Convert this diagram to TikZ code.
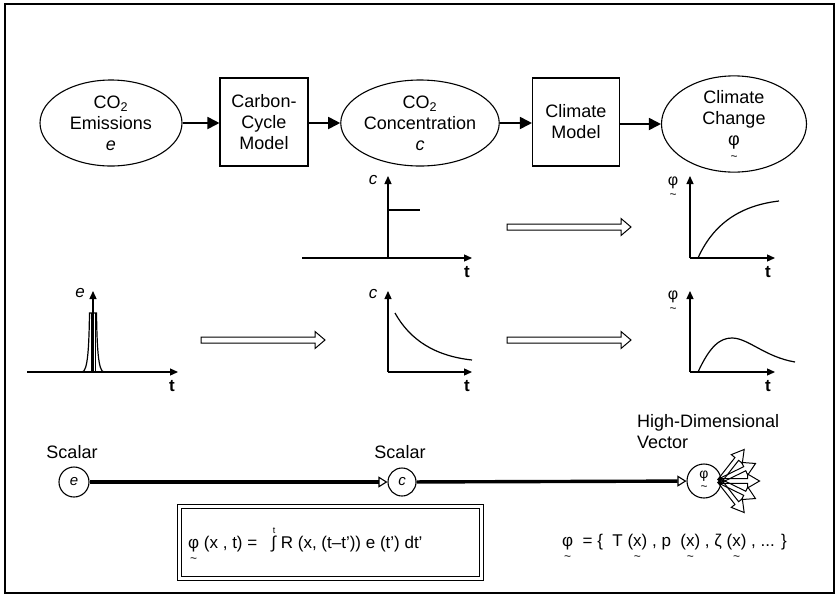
\documentclass[tikz,border=0pt]{standalone}
\usepackage{fontspec}
\setmainfont{Liberation Sans}
\usetikzlibrary{arrows.meta,shapes.geometric}
\newcommand\tld[2][-6pt]{\begin{tabular}[t]{@{}c@{}}#2\\[#1]{\fontsize{12}{12}\selectfont\textasciitilde}\end{tabular}}
\newcommand\harrow[3]{\draw[harr] (#1,#3-3) -- (#2-10,#3-3) -- (#2-10,#3-8.5) -- (#2,#3) -- (#2-10,#3+8.5) -- (#2-10,#3+3) -- (#1,#3+3) -- cycle;}
\begin{document}
\begin{tikzpicture}[x=1pt,y=-1pt,
  txt/.style={font=\fontsize{18}{21}\selectfont, align=center, inner sep=0pt},
  ell/.style={txt, draw, line width=1.1pt, ellipse, minimum width=142pt, minimum height=86pt},
  boxn/.style={txt, draw, line width=1.1pt, rectangle, minimum width=88pt, minimum height=88pt},
  flow/.style={line width=1.8pt, -{Triangle[length=12pt,width=12pt]}},
  ax/.style={line width=1.3pt, -{Triangle[length=8pt,width=7pt]}},
  crv/.style={line width=1.2pt},
  harr/.style={line width=1pt},
  lab/.style={font=\fontsize{17}{20}\selectfont\itshape, inner sep=0pt},
  tlab/.style={font=\fontsize{17}{20}\selectfont\bfseries, inner sep=0pt},
  circn/.style={txt, draw, circle, line width=1.1pt, minimum size=30pt, font=\fontsize{15}{17}\selectfont},
  thick/.style={line width=3.4pt, -{Triangle[open, length=9pt, width=11pt, line width=1.1pt]}},
  fan/.pic={\draw[line width=1pt] (0,-2.3) -- (28,-2.3) -- (28,-7) -- (40,0) -- (28,7) -- (28,2.3) -- (0,2.3) -- cycle;}
]
\useasboundingbox (0,0) rectangle (836,598);
\draw[line width=1.8pt] (5,4) rectangle (834,593);

% top row
\node[ell] (em) at (111,123) {CO\textsubscript{2}\\Emissions\\\textit{e}};
\node[boxn] (ccm) at (264,122) {Carbon-\\Cycle\\Model};
\node[ell, minimum width=144pt] (conc) at (420,123) {CO\textsubscript{2}\\Concentration\\\textit{c}};
\node[boxn, minimum width=87pt] (cm) at (576,122) {Climate\\Model};
\node[ell, minimum width=145pt, minimum height=88pt] (cc) at (734,124) {Climate\\Change\\\raisebox{0pt}[\height][13pt]{\tld{φ}}};
\draw[flow] (em.east) -- (em.east -| ccm.west);
\draw[flow] (ccm.east |- conc.west) -- (conc.west);
\draw[flow] (conc.east) -- (conc.east -| cm.west);
\draw[flow] (cm.east |- cc.west) -- (cc.west);

% plot c step
\draw[ax] (388,258) -- (388,176);
\draw[ax] (302,258) -- (472,258);
\draw[crv] (388,210) -- (420,210);
\node[lab] (lc1) at (373,180) {c};
\node[tlab] (lt1) at (467,272) {t};

% plot c decay
\draw[ax] (388,372) -- (388,291);
\draw[ax] (388,372) -- (472,372);
\draw[crv] (395,313) .. controls (410,340) and (435,356) .. (472,360);
\node[lab] (lc2) at (373,294) {c};
\node[tlab] (lt2) at (467,386) {t};

% plot e pulse
\draw[ax] (27,372) -- (178,372);
\draw[ax] (93,372) -- (93,291);
\draw[crv] (82,372) .. controls (88,372) and (89,345) .. (89.5,313) -- (96.5,313) .. controls (97,345) and (98,372) .. (104,372);
\draw[line width=0.9pt] (91,313) -- (91,372) (95,313) -- (95,372);
\node[lab] (le) at (80,293) {e};
\node[tlab] (lt0) at (172,386) {t};

% plot phi rise
\draw[ax] (690,258) -- (690,176);
\draw[ax] (690,258) -- (775,258);
\draw[crv] (698,258) .. controls (715,220) and (745,205) .. (779,201);
\node[txt, font=\fontsize{16}{19}\selectfont] (lp1) at (673,188) {\tld{φ}};
\node[tlab] (lt3) at (768,272) {t};

% plot phi hump
\draw[ax] (690,372) -- (690,291);
\draw[ax] (690,372) -- (775,372);
\draw[crv] (698,372) .. controls (710,346) and (720,338) .. (732,338) .. controls (748,338) and (765,357) .. (795,362);
\node[txt, font=\fontsize{16}{19}\selectfont] (lp2) at (673,302) {\tld{φ}};
\node[tlab] (lt4) at (768,386) {t};

% hollow arrows
\harrow{507}{631}{227}
\harrow{201}{325}{340}
\harrow{507}{631}{340}

% bottom row
\node[txt] (s1) at (72,452) {Scalar};
\node[circn] (ce) at (74,482) {\textit{e}};
\node[txt] (s2) at (400,452) {Scalar};
\node[circn, minimum size=28pt] (ccn) at (402,482) {\textit{c}};
\node[txt, align=left, anchor=west] (hd) at (637,432) {High-Dimensional\\Vector};
\node[circn, minimum size=34pt, font=\fontsize{14}{16}\selectfont] (cp) at (704,481) {\tld[-4pt]{φ}};
\draw[thick] (ce) -- (ccn);
\draw[thick] (ccn) -- (cp);
\foreach \a in {52,26,0,-26,-52} \pic[rotate=\a] at ([xshift=-2pt]cp.east) {fan};

% formula box
\node[draw, double, double distance=3pt, line width=1.1pt, minimum width=302pt, minimum height=72pt, inner sep=0pt] (fb) at (330.5,542.5) {};
\node[txt, font=\fontsize{17}{20}\selectfont, anchor=west] (fm) at (188,548) {\tld{φ} (x , t) = \ \ \rlap{\raisebox{15pt}{\small\,t}}∫ R (x, (t–t')) e (t') dt'};
\node[txt, font=\fontsize{17}{20}\selectfont, anchor=west] (vec) at (562,549) {\tld{φ} \ =\ \{ \ T (\tld{x}) , p \ (\tld{x}) , ζ (\tld{x}) , ... \}};
\end{tikzpicture}
\end{document}
